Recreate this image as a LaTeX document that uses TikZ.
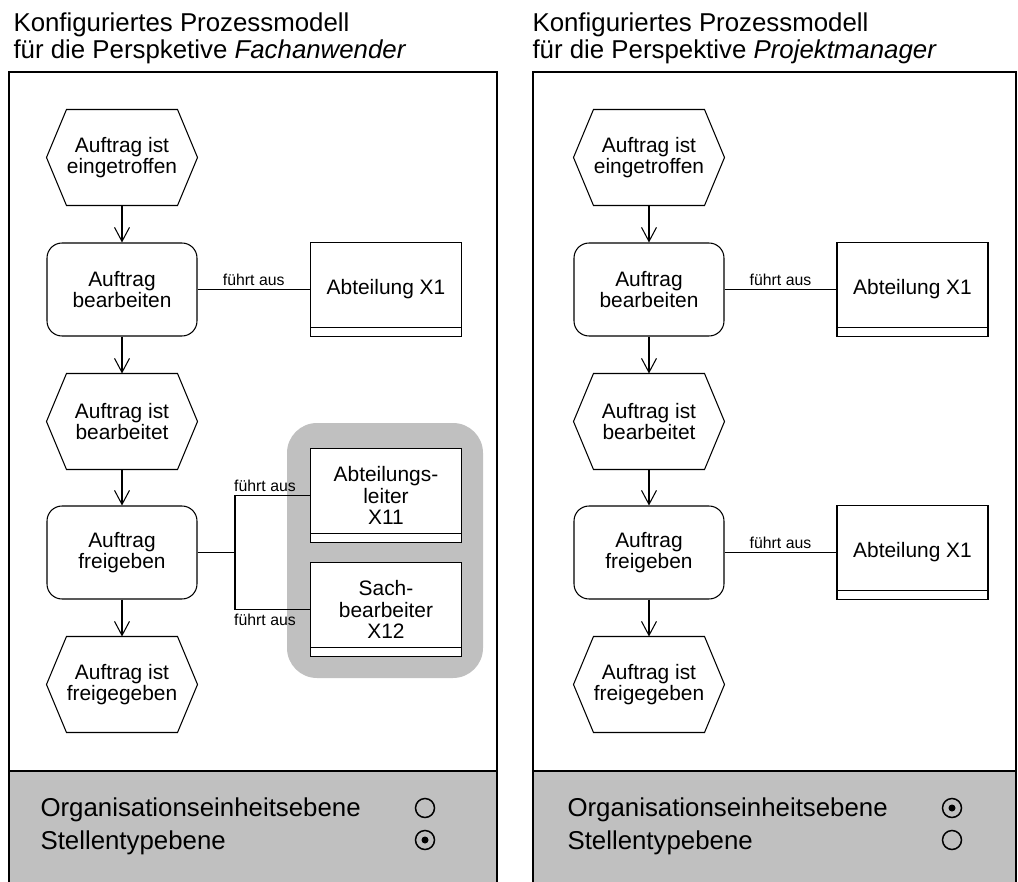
\documentclass[tikz,border=0pt]{standalone}
\usepackage{fontspec}
\setmainfont{Liberation Sans}
\usetikzlibrary{arrows.meta}

\definecolor{bandgray}{RGB}{192,192,192}
\newcommand{\nodefont}{\fontsize{11.9}{12}\selectfont}

\tikzset{
  evt/.style={minimum width=3cm, minimum height=1.9cm, align=center, font=\nodefont},
  fnbox/.style={draw, rounded corners=0.3cm, minimum width=3cm,
    minimum height=1.86cm, align=center, font=\nodefont},
  orgbox/.style={draw, fill=white, minimum width=3.02cm, minimum height=1.87cm,
    align=center, font=\nodefont,
    path picture={\draw ([yshift=0.18cm]path picture bounding box.south west)
      -- ([yshift=0.18cm]path picture bounding box.south east);}},
  flow/.style={-{Straight Barb[length=0.28cm,width=0.3cm]}},
  relabel/.style={font=\fontsize{9}{10}\selectfont, inner sep=2pt},
  heading/.style={anchor=base west, inner sep=0pt, font=\fontsize{14.7}{15}\selectfont},
  radio/.style={circle, draw, minimum size=0.38cm, inner sep=0pt, line width=0.85pt},
  radioon/.style={radio, path picture={\fill (path picture bounding box.center) circle[radius=0.07cm];}}
}

\begin{document}
\begin{tikzpicture}[x=0.02cm, y=-0.02cm, line width=0.6pt]
    \useasboundingbox (0,0) rectangle (1018,882);

    % Panels with level bands
    \draw (9,72) rectangle (497,890);
    \filldraw[fill=bandgray] (9,771) rectangle (497,890);
    \draw (533,72) rectangle (1016,890);
    \filldraw[fill=bandgray] (533,771) rectangle (1016,890);

    % Headings
    \node[heading] (tl1) at (13,32) {Konfiguriertes Prozessmodell};
    \node[heading] (tl2) at (13,58.5) {für die Perspketive \textit{Fachanwender}};
    \node[heading] (tr1) at (532,32) {Konfiguriertes Prozessmodell};
    \node[heading] (tr2) at (532,58.5) {für die Perspektive \textit{Projektmanager}};

    % Left process (Fachanwender)
    \fill[bandgray, rounded corners=0.6cm] (287,423) rectangle (483,678);
    \node[evt] (le1) at (122,157.5) {Auftrag ist\\eingetroffen};
    \node[fnbox] (lf1) at (122,289.5) {Auftrag\\bearbeiten};
    \node[evt] (le2) at (122,421.5) {Auftrag ist\\bearbeitet};
    \node[fnbox] (lf2) at (122,552.5) {Auftrag\\freigeben};
    \node[evt] (le3) at (122,684.5) {Auftrag ist\\freigegeben};
    \node[orgbox] (lo1) at (386,289.5) {Abteilung X1};
    \node[orgbox] (lo2) at (386,495.5) {Abteilungs-\\leiter\\X11};
    \node[orgbox] (lo3) at (386,609.5) {Sach-\\bearbeiter\\X12};

    \draw[flow] (le1) -- (lf1);
    \draw[flow] (lf1) -- (le2);
    \draw[flow] (le2) -- (lf2);
    \draw[flow] (lf2) -- (le3);
    \draw (lf1) -- node[relabel, above] {führt aus} (lo1);
    \coordinate (lj) at (235,552.5);
    \draw (lf2) -- (lj);
    \draw (lj) |- node[relabel, pos=0.7, above] {führt aus} (lo2);
    \draw (lj) |- node[relabel, pos=0.7, below] {führt aus} (lo3);

    % Right process (Projektmanager)
    \node[evt] (re1) at (649,157.5) {Auftrag ist\\eingetroffen};
    \node[fnbox] (rf1) at (649,289.5) {Auftrag\\bearbeiten};
    \node[evt] (re2) at (649,421.5) {Auftrag ist\\bearbeitet};
    \node[fnbox] (rf2) at (649,552.5) {Auftrag\\freigeben};
    \node[evt] (re3) at (649,684.5) {Auftrag ist\\freigegeben};
    \node[orgbox] (ro1) at (912.5,289.5) {Abteilung X1};
    \node[orgbox] (ro2) at (912.5,552.5) {Abteilung X1};

    \draw[flow] (re1) -- (rf1);
    \draw[flow] (rf1) -- (re2);
    \draw[flow] (re2) -- (rf2);
    \draw[flow] (rf2) -- (re3);
    \draw (rf1) -- node[relabel, above] {führt aus} (ro1);
    \draw (rf2) -- node[relabel, above] {führt aus} (ro2);

    % Event hexagons
    \foreach \ev in {le1,le2,le3,re1,re2,re3}
        \draw ([xshift=0.4cm]\ev.north west) -- ([xshift=-0.4cm]\ev.north east)
            -- (\ev.east) -- ([xshift=-0.4cm]\ev.south east)
            -- ([xshift=0.4cm]\ev.south west) -- (\ev.west) -- cycle;

    % Level selection
    \node[heading] (ll1) at (40,816) {Organisationseinheitsebene};
    \node[heading] (ll2) at (40,849) {Stellentypebene};
    \node[radio] (lr1) at (425,808) {};
    \node[radioon] (lr2) at (425,840) {};
    \node[heading] (rl1) at (567,816) {Organisationseinheitsebene};
    \node[heading] (rl2) at (567,849) {Stellentypebene};
    \node[radioon] (rr1) at (952,808) {};
    \node[radio] (rr2) at (952,840) {};
\end{tikzpicture}
\end{document}
